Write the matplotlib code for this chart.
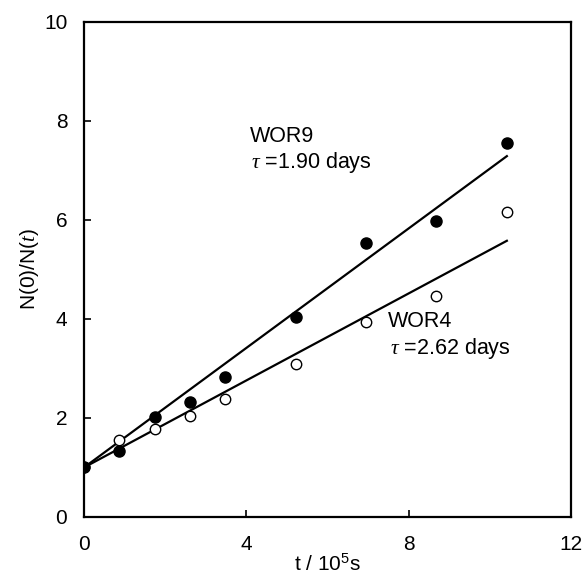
import matplotlib
matplotlib.use("Agg")
import matplotlib.pyplot as plt

# data
t = [0, 0.87, 1.74, 2.61, 3.47, 5.22, 6.94, 8.68, 10.42]
wor9 = [1.0, 1.33, 2.01, 2.32, 2.82, 4.05, 5.53, 5.98, 7.56]
wor4 = [1.0, 1.56, 1.78, 2.04, 2.38, 3.09, 3.93, 4.46, 6.16]

# fitted lines (end points)
fit_t = [0, 10.42]
fit9 = [1.0, 7.29]
fit4 = [1.0, 5.58]

plt.rcParams['font.family'] = ['Liberation Sans', 'DejaVu Sans']
plt.rcParams['mathtext.fontset'] = 'custom'
plt.rcParams['mathtext.it'] = 'Liberation Serif:italic'
plt.rcParams['mathtext.rm'] = 'Liberation Sans'

fig = plt.figure(figsize=(5.84, 5.77), dpi=100)
ax = fig.add_axes([0.1438, 0.104, 0.8339, 0.8579])

ax.plot(fit_t, fit9, color='black', lw=1.6, zorder=2)
ax.plot(fit_t, fit4, color='black', lw=1.6, zorder=2)
ax.plot(t, wor4, 'o', mfc='white', mec='black', mew=1.0, ms=7.5, zorder=3)
ax.plot(t, wor9, 'o', mfc='black', mec='black', ms=8, zorder=4)

fs = 15
ax.text(4.09, 7.68, 'WOR9', fontsize=15.5, va='center')
ax.text(4.12, 7.17, r'$\it{\tau}$ =1.90 days', fontsize=15.5, va='center')
ax.text(7.49, 3.94, 'WOR4', fontsize=15.5, va='center')
ax.text(7.53, 3.41, r'$\it{\tau}$ =2.62 days', fontsize=15.5, va='center')

ax.set_xlim(0, 12)
ax.set_ylim(0, 10)
ax.set_xticks([0, 4, 8, 12])
ax.set_yticks([0, 2, 4, 6, 8, 10])
ax.tick_params(direction='in', length=5, width=1.2, labelsize=fs)
ax.tick_params(axis='x', pad=13)
ax.tick_params(axis='y', pad=12)
for s in ax.spines.values():
    s.set_linewidth(1.6)

ax.set_xlabel(r'$\rm{t}$ / 10$^5$s', fontsize=fs, labelpad=0)
ax.set_ylabel(r'N(0)/N($\it{t}$)', fontsize=fs, labelpad=2)

fig.savefig('out.png', dpi=100)
